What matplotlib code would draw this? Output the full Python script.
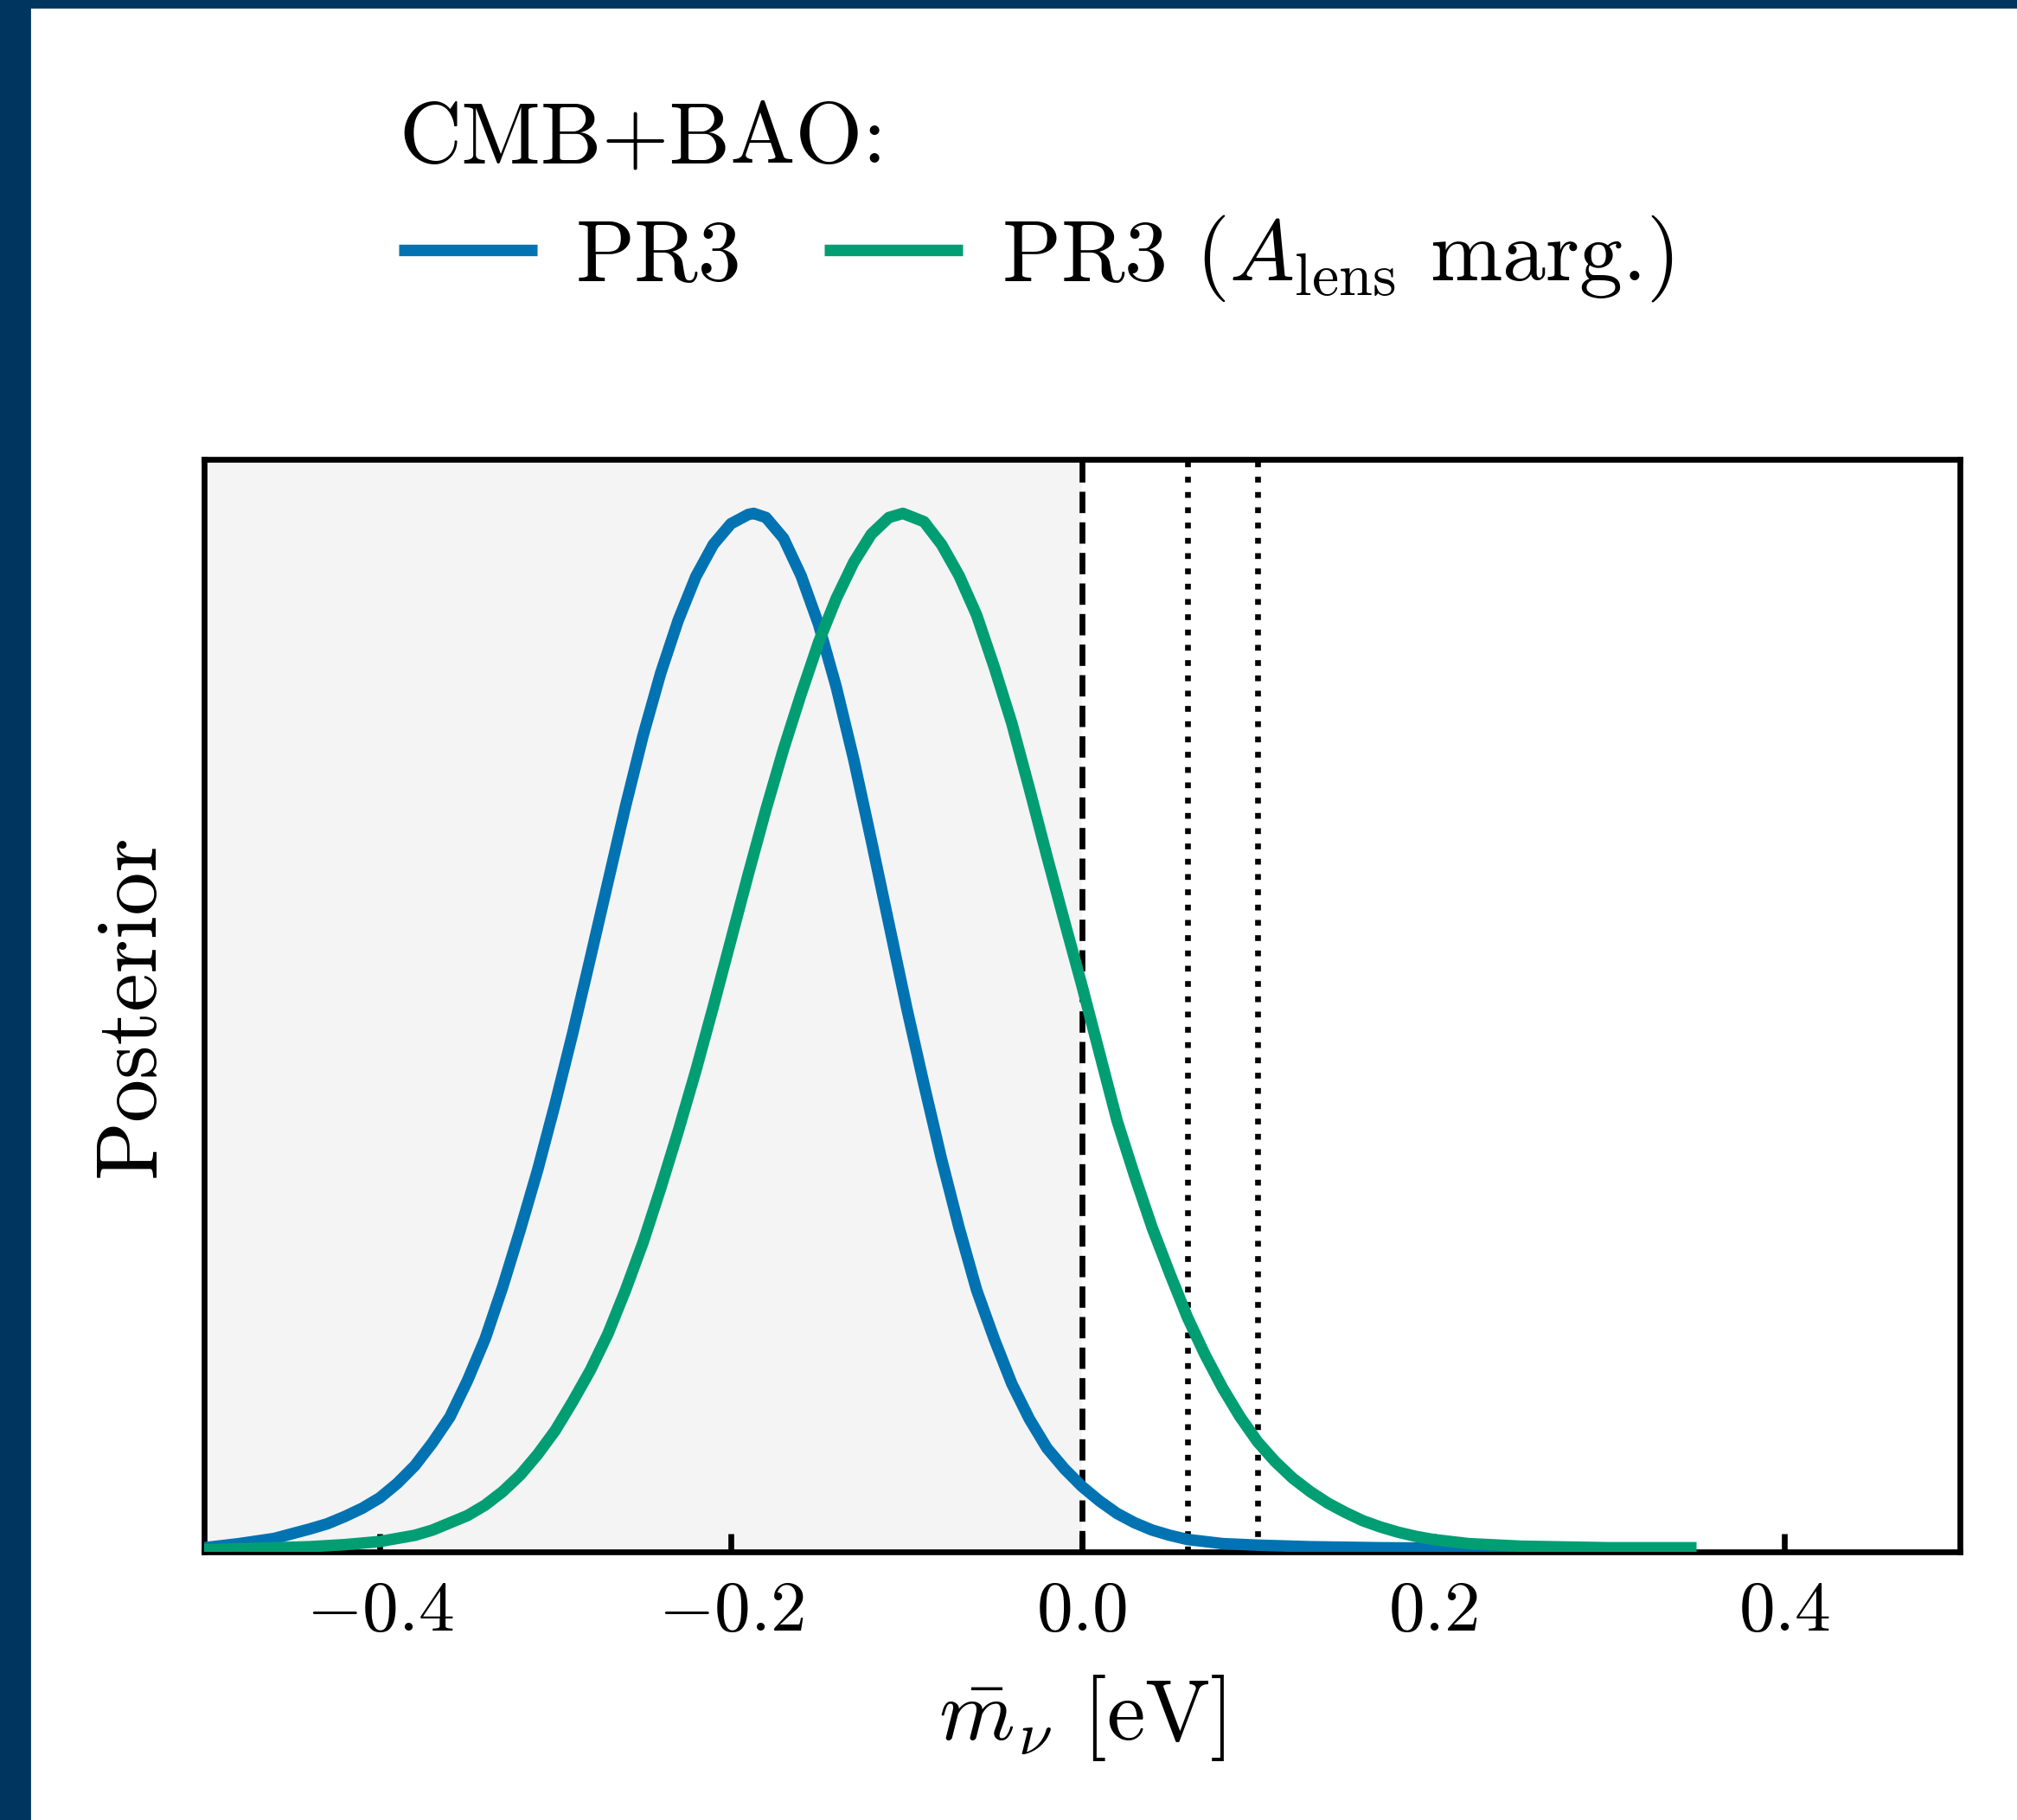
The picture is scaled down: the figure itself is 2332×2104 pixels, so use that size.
import numpy as np
import matplotlib
matplotlib.use('Agg')
import matplotlib.pyplot as plt
from matplotlib.patches import Rectangle

plt.rcParams['font.family'] = 'serif'
plt.rcParams['font.serif'] = ['cmr10']
plt.rcParams['mathtext.fontset'] = 'cm'
plt.rcParams['axes.formatter.use_mathtext'] = True

# posterior curves (x in eV, peak normalised to 1)
pr3_x = [-0.50, -0.48, -0.46, -0.44, -0.43, -0.42, -0.41, -0.40, -0.39, -0.38,
         -0.37, -0.36, -0.35, -0.34, -0.33, -0.32,
         -0.31, -0.30, -0.29, -0.28, -0.27, -0.26, -0.25, -0.24, -0.23, -0.22,
         -0.21, -0.20, -0.19, -0.187, -0.18, -0.17, -0.16, -0.15, -0.14, -0.13,
         -0.12, -0.11, -0.10, -0.09, -0.08, -0.07, -0.06, -0.05, -0.04, -0.03,
         -0.02, -0.01, 0.00, 0.01, 0.02, 0.03, 0.04, 0.05, 0.06, 0.08,
         0.10, 0.13, 0.17, 0.25]
pr3_y = [0.004, 0.008, 0.013, 0.022, 0.027, 0.034, 0.042, 0.052, 0.066, 0.083,
         0.105, 0.13, 0.165, 0.205, 0.255, 0.31,
         0.368, 0.432, 0.50, 0.572, 0.645, 0.718, 0.786, 0.846, 0.897, 0.939,
         0.97, 0.99, 0.999, 1.0, 0.996, 0.976, 0.94, 0.893, 0.833, 0.763,
         0.685, 0.605, 0.525, 0.45, 0.378, 0.312, 0.252, 0.205, 0.162, 0.128,
         0.100, 0.08, 0.063, 0.049, 0.037, 0.028, 0.021, 0.016, 0.012, 0.008,
         0.0065, 0.005, 0.004, 0.003]

alens_x = [-0.50, -0.48, -0.46, -0.44, -0.42, -0.40, -0.38, -0.37, -0.36, -0.35,
           -0.34, -0.33, -0.32, -0.31,
           -0.30, -0.29, -0.28, -0.27, -0.26, -0.25, -0.24, -0.23, -0.22, -0.21,
           -0.20, -0.19, -0.18, -0.17, -0.16, -0.15, -0.14, -0.13, -0.12, -0.11,
           -0.102, -0.09, -0.08, -0.07, -0.06, -0.05, -0.04, -0.03, -0.02, -0.01,
           0.00, 0.01, 0.02, 0.03, 0.04, 0.05, 0.06, 0.07, 0.08, 0.09,
           0.10, 0.11, 0.12, 0.13, 0.14, 0.15, 0.16, 0.17, 0.18, 0.19,
           0.20, 0.22, 0.25, 0.30, 0.35]
alens_y = [0.002, 0.003, 0.004, 0.005, 0.007, 0.010, 0.016, 0.021, 0.028, 0.035,
           0.045, 0.058, 0.074, 0.094,
           0.117, 0.145, 0.175, 0.21, 0.252, 0.298, 0.35, 0.405, 0.463, 0.525,
           0.589, 0.653, 0.715, 0.773, 0.826, 0.876, 0.918, 0.953, 0.98, 0.996,
           1.0, 0.992, 0.97, 0.94, 0.902, 0.852, 0.798, 0.735, 0.670, 0.607,
           0.545, 0.48, 0.415, 0.362, 0.312, 0.268, 0.226, 0.19, 0.158, 0.13,
           0.106, 0.087, 0.071, 0.058, 0.047, 0.038, 0.030, 0.024, 0.019, 0.015,
           0.012, 0.008, 0.0055, 0.004, 0.004]

labels = ['PR3', r'PR3 $(A_\mathrm{lens}$ marg.$)$']
colors = ['#0173b2', '#029e73']
xticks = [-0.4, -0.2, 0.0, 0.2, 0.4]
lower_bound = 0.0
ordering_lines = [0.06, 0.1]

fig = plt.figure(figsize=(11.66, 10.52), dpi=200)
fig.patches.append(Rectangle((0, 0), 34 / 2332, 1, transform=fig.transFigure,
                             color='#00355f', zorder=-1))
fig.patches.append(Rectangle((0, 1 - 8 / 2104), 1, 8 / 2104, transform=fig.transFigure,
                             color='#00355f', zorder=-1))

ax = fig.add_axes([0.1012, 0.1473, 0.8705, 0.6003])
ax.axvspan(-0.5, lower_bound, color='#f4f4f4', lw=0, zorder=0)

l1, = ax.plot(pr3_x, pr3_y, color=colors[0], lw=4.8, solid_capstyle='butt',
              solid_joinstyle='round', zorder=3)
l2, = ax.plot(alens_x, alens_y, color=colors[1], lw=4.8, solid_capstyle='butt',
              solid_joinstyle='round', zorder=4)

ax.axvline(lower_bound, color='k', ls='--', lw=2.4, zorder=2)
for v in ordering_lines:
    ax.axvline(v, color='k', ls=':', lw=2.4, zorder=2)

ax.set_xlim(-0.5, 0.5)
ax.set_ylim(0, 1.052)
ax.set_xticks(xticks)
ax.set_yticks([])
ax.tick_params(axis='x', direction='in', length=7.5, width=2.4, labelsize=30, pad=12)
for s in ax.spines.values():
    s.set_linewidth(2.4)

ax.set_xlabel(r'$\bar{m}_\nu$ [eV]', fontsize=36, labelpad=12)
ax.set_ylabel('Posterior', fontsize=36, labelpad=14)

fig.legend([l1, l2], labels, loc='upper left', bbox_to_anchor=(461 / 2332, 1 - 118 / 2104),
           ncol=2, frameon=False, fontsize=36, title='CMB+BAO:', title_fontsize=36,
           alignment='left', handlelength=1.6, handletextpad=0.45, columnspacing=0.95,
           borderpad=0, borderaxespad=0, labelspacing=0.4)

fig.savefig('out.png', dpi=200, facecolor='white')
